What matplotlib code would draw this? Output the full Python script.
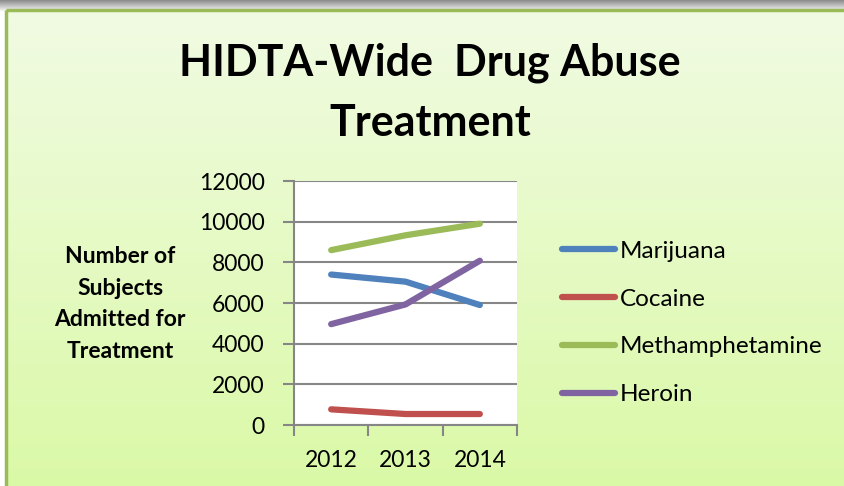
import numpy as np
import matplotlib
matplotlib.use("Agg")
import matplotlib.pyplot as plt
from matplotlib.patches import Rectangle

years = ["2012", "2013", "2014"]
series_names = ["Marijuana", "Cocaine", "Methamphetamine", "Heroin"]
marijuana = [7400, 7050, 5900]
cocaine = [770, 540, 540]
methamphetamine = [8600, 9330, 9900]
heroin = [4960, 5930, 8080]
colors = ["#4F81BD", "#C0504D", "#9BBB59", "#8064A2"]
yticks = [0, 2000, 4000, 6000, 8000, 10000, 12000]

plt.rcParams['font.family'] = ['Lato', 'DejaVu Sans']

W, H = 844, 486
fig = plt.figure(figsize=(W/100, H/100), dpi=100)

# background
bg = fig.add_axes([0, 0, 1, 1])
bg.set_xlim(0, W); bg.set_ylim(H, 0); bg.axis('off')
bg.add_patch(Rectangle((0, 0), W, H, color='white', zorder=0))
shadow = np.linspace(0.55, 1.0, 20).reshape(-1, 1)
bg.imshow(np.dstack([shadow]*3), extent=(0, W, 12, 0), aspect='auto', zorder=1)
grad = np.linspace(0, 1, 256).reshape(-1, 1)
top = np.array([0xF1, 0xFB, 0xE3]) / 255
bot = np.array([0xDA, 0xF9, 0xA6]) / 255
img = top + grad[..., None] * (bot - top)
bg.imshow(img, extent=(6, W + 5, H + 5, 10), aspect='auto', zorder=2)
bg.add_patch(Rectangle((6, 10), W, H, fill=False, ec='#9BBB59', lw=2.5, zorder=3))
bg.set_xlim(0, W); bg.set_ylim(H, 0)

fig.text(430 / W, 1 - 63 / H, "HIDTA-Wide  Drug Abuse", ha='center', va='center',
         fontsize=31, fontweight='bold')
fig.text(430 / W, 1 - 123 / H, "Treatment", ha='center', va='center',
         fontsize=31, fontweight='bold')

fig.text(120 / W, 1 - 304 / H, "Number of\nSubjects\nAdmitted for\nTreatment",
         ha='center', va='center', fontsize=16.5, fontweight='bold', linespacing=1.62)

ax = fig.add_axes([294 / W, 1 - 425 / H, (517 - 294) / W, (425 - 181) / H])
ax.set_facecolor('white')
x = np.arange(len(years)) + 0.5
for vals, name, c in zip([marijuana, cocaine, methamphetamine, heroin], series_names, colors):
    ax.plot(x, vals, color=c, lw=4.5, label=name, solid_capstyle='round')
ax.set_xlim(0, len(years))
ax.set_ylim(0, 12000)
ax.set_yticks(yticks)
ax.set_yticklabels([str(v) for v in yticks], fontsize=16.5)
ax.set_xticks(np.arange(len(years) + 1))
ax.set_xticklabels([])
ax.set_xticks(x, minor=True)
ax.set_xticklabels(years, minor=True, fontsize=16.5)
ax.tick_params(axis='x', which='minor', length=0, pad=18)
ax.tick_params(axis='x', which='major', length=8, color='#868686', width=1.5)
ax.tick_params(axis='y', length=8, color='#868686', width=1.5, pad=13)
ax.grid(axis='y', color='#868686', lw=1.5)
ax.set_axisbelow(True)
for s in ['top', 'right']:
    ax.spines[s].set_visible(False)
for s in ['left', 'bottom']:
    ax.spines[s].set_color('#868686')
    ax.spines[s].set_linewidth(1.5)

leg = fig.legend(loc='upper left', bbox_to_anchor=(540 / W, 1 - 219 / H), frameon=False,
                 fontsize=17.5, handlelength=2.2, handletextpad=0.2, labelspacing=1.1)

fig.savefig("out.png", dpi=100)
